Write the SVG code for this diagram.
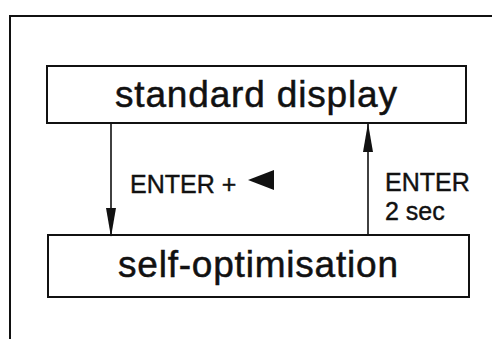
<svg xmlns="http://www.w3.org/2000/svg" width="492" height="339" viewBox="0 0 492 339">
<defs>
<style>
.box{fill:#fff;stroke:#111;stroke-width:2}
.big{font-family:"Liberation Sans",Arial,sans-serif;font-size:37px;fill:#111;stroke:#111;stroke-width:0.5}
.lbl{font-family:"Liberation Sans",Arial,sans-serif;font-size:25px;fill:#111;stroke:#111;stroke-width:0.4}
.conn{stroke:#111;stroke-width:1.6;fill:none}
.head{fill:#111}
</style>
</defs>
<rect width="492" height="339" fill="#fff"/>
<path d="M10,339 V16 H492" fill="none" stroke="#111" stroke-width="2"/>
<g id="standard-display">
<rect class="box" x="47" y="66" width="419" height="57"/>
<text class="big" x="115" y="107" textLength="282" lengthAdjust="spacing">standard display</text>
</g>
<g id="self-optimisation">
<rect class="box" x="48" y="235" width="421" height="62"/>
<text class="big" x="118" y="277" textLength="280" lengthAdjust="spacing">self-optimisation</text>
</g>
<g id="connectors">
<line class="conn" x1="111" y1="124" x2="111" y2="236"/>
<path class="head" d="M106,208 L111,237 L116,208 Z"/>
<line class="conn" x1="368" y1="234" x2="368" y2="124"/>
<path class="head" d="M363,152 L368,123 L373,152 Z"/>
<text class="lbl" x="130" y="193">ENTER +</text>
<path class="head" d="M248,180 L274,170 L274,190 Z"/>
<text class="lbl" x="385" y="191">ENTER</text>
<text class="lbl" x="385" y="220">2 sec</text>
</g>
</svg>
